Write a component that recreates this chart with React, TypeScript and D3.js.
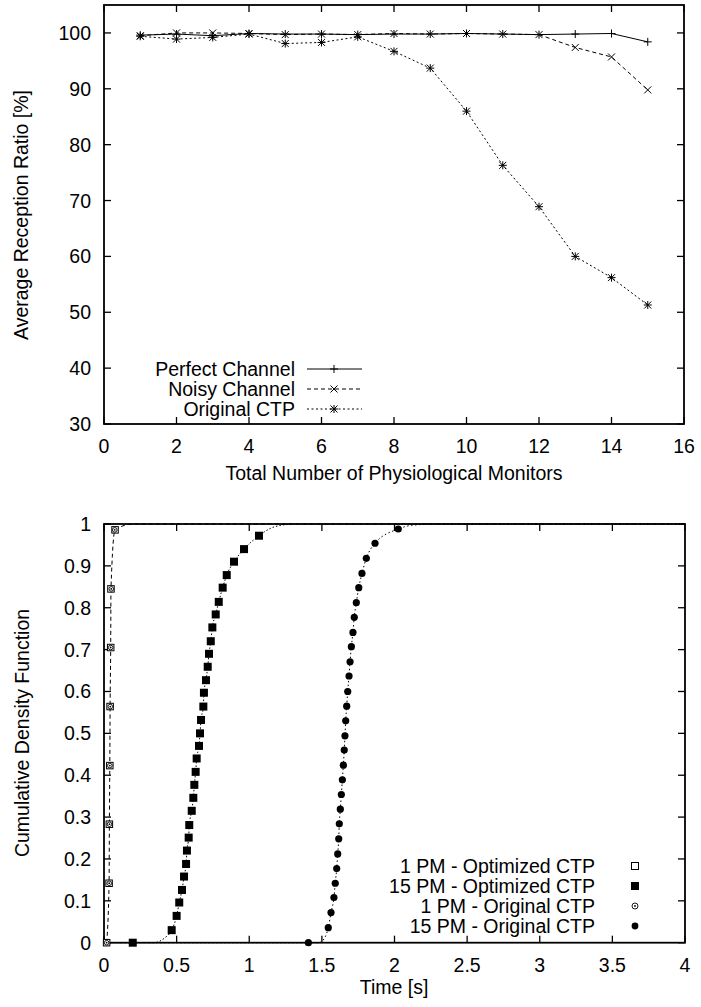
import React from 'react';
import * as d3 from 'd3';

// ---------- Top chart data ----------
const monitors = [1, 2, 3, 4, 5, 6, 7, 8, 9, 10, 11, 12, 13, 14, 15];
const perfectChannel = [99.6, 99.8, 99.5, 99.9, 99.8, 99.8, 99.7, 99.8, 99.8, 99.9, 99.8, 99.7, 99.8, 99.9, 98.4];
const noisyChannel = [99.5, 100.0, 100.0, 99.9, 99.7, 99.8, 99.7, 99.9, 99.8, 99.9, 99.8, 99.7, 97.4, 95.7, 89.8];
const originalCTP = [99.4, 98.9, 99.2, 99.8, 98.1, 98.3, 99.3, 96.7, 93.7, 86.0, 76.3, 68.9, 60.0, 56.2, 51.3];
const topXTicks = [0, 2, 4, 6, 8, 10, 12, 14, 16];
const topYTicks = [30, 40, 50, 60, 70, 80, 90, 100];
const topLegend = ['Perfect Channel', 'Noisy Channel', 'Original CTP'];

// ---------- Bottom chart data ----------
const pm1OptX = [0.018, 0.035, 0.037, 0.04, 0.042, 0.046, 0.048, 0.076];
const pm1OptY = [0, 0.142, 0.283, 0.423, 0.564, 0.705, 0.845, 0.986];
const pm1OrigX = [0.018, 0.036, 0.038, 0.04, 0.043, 0.046, 0.05, 0.074];
const pm1OrigY = [0, 0.142, 0.283, 0.423, 0.564, 0.705, 0.845, 0.986];

const pm15OptX = [0.198, 0.466, 0.5, 0.518, 0.537, 0.551, 0.565, 0.571, 0.583, 0.587, 0.604, 0.615, 0.622, 0.631,
  0.638, 0.654, 0.661, 0.668, 0.684, 0.688, 0.702, 0.714, 0.723, 0.735, 0.746, 0.769, 0.79, 0.817, 0.845, 0.895, 0.964, 1.067];
const pm15OptY = [0, 0.03, 0.064, 0.096, 0.126, 0.158, 0.188, 0.22, 0.251, 0.281, 0.315, 0.346, 0.377, 0.408,
  0.44, 0.47, 0.5, 0.532, 0.564, 0.597, 0.627, 0.659, 0.69, 0.72, 0.753, 0.784, 0.814, 0.848, 0.878, 0.91, 0.94, 0.972];
const pm15OptHeadX = [0, 0.34, 0.42];
const pm15OptHeadY = [0, 0, 0.012];
const pm15OptTailX = [1.18, 1.32, 4];
const pm15OptTailY = [0.994, 1, 1];

const pm15OrigX = [1.407, 1.544, 1.563, 1.583, 1.592, 1.602, 1.609, 1.616, 1.62, 1.627, 1.634, 1.641, 1.648, 1.654,
  1.659, 1.664, 1.671, 1.678, 1.687, 1.694, 1.703, 1.714, 1.723, 1.737, 1.754, 1.776, 1.806, 1.866, 2.026];
const pm15OrigY = [0, 0.036, 0.072, 0.108, 0.142, 0.177, 0.212, 0.248, 0.284, 0.319, 0.354, 0.389, 0.424, 0.46,
  0.494, 0.53, 0.565, 0.6, 0.637, 0.671, 0.707, 0.741, 0.777, 0.812, 0.848, 0.882, 0.918, 0.954, 0.988];
const pm15OrigHeadX = [0, 1.48, 1.52];
const pm15OrigHeadY = [0, 0, 0.012];
const pm15OrigTailX = [2.12, 2.3, 4];
const pm15OrigTailY = [0.997, 1, 1];

const pm1TailX = [0.2, 4];
const pm1TailY = [1, 1];

const botXTicks = [0, 0.5, 1, 1.5, 2, 2.5, 3, 3.5, 4];
const botYTicks = [0, 0.1, 0.2, 0.3, 0.4, 0.5, 0.6, 0.7, 0.8, 0.9, 1];
const botLegend = ['1 PM - Optimized CTP', '15 PM - Optimized CTP', '1 PM - Original CTP', '15 PM - Original CTP'];

const FONT = "'Liberation Sans', Arial, Helvetica, sans-serif";
const FS = 19.5;
const BL = 7; // baseline offset to vertically centre text

const zip = (xs: number[], ys: number[]) => xs.map((x, i) => [x, ys[i]] as [number, number]);

const plusPath = 'M-4,0H4M0,-4V4';
const crossPath = 'M-3.5,-3.5L3.5,3.5M-3.5,3.5L3.5,-3.5';
const starPath = plusPath + crossPath;

function Frame({ x, y, xTicks, yTicks, fmtX, fmtY }: any) {
  const [x0, x1] = x.range();
  const [y0, y1] = y.range();
  const T = 7;
  return (
    <g>
      {xTicks.map((t: number) => (
        <g key={'xt' + t}>
          <line x1={x(t)} x2={x(t)} y1={y0} y2={y0 - T} stroke="#000" strokeWidth={1.3} />
          <line x1={x(t)} x2={x(t)} y1={y1} y2={y1 + T} stroke="#000" strokeWidth={1.3} />
          <text x={x(t)} y={y0 + 29} textAnchor="middle" fontSize={FS} fontFamily={FONT}>{fmtX(t)}</text>
        </g>
      ))}
      {yTicks.map((t: number) => (
        <g key={'yt' + t}>
          <line x1={x0} x2={x0 + T} y1={y(t)} y2={y(t)} stroke="#000" strokeWidth={1.3} />
          <line x1={x1} x2={x1 - T} y1={y(t)} y2={y(t)} stroke="#000" strokeWidth={1.3} />
          <text x={x0 - 13} y={y(t) + BL} textAnchor="end" fontSize={FS} fontFamily={FONT}>{fmtY(t)}</text>
        </g>
      ))}
      <rect x={x0} y={y1} width={x1 - x0} height={y0 - y1} fill="none" stroke="#000" strokeWidth={1.8} />
    </g>
  );
}

export default function App() {
  // top chart scales
  const xT = d3.scaleLinear().domain([0, 16]).range([104, 684]);
  const yT = d3.scaleLinear().domain([30, 105]).range([424, 5]);
  const lineT = d3.line<[number, number]>().x(d => xT(d[0])).y(d => yT(d[1]));

  const topSeries = [
    { name: topLegend[0], vals: perfectChannel, dash: undefined, marker: plusPath },
    { name: topLegend[1], vals: noisyChannel, dash: '4,3', marker: crossPath },
    { name: topLegend[2], vals: originalCTP, dash: '2,2.5', marker: starPath },
  ];

  // bottom chart scales
  const xB = d3.scaleLinear().domain([0, 4]).range([104, 685]);
  const yB = d3.scaleLinear().domain([0, 1]).range([942.7, 524]);
  const lineB = d3.line<[number, number]>().x(d => xB(d[0])).y(d => yB(d[1])).curve(d3.curveMonotoneX);

  const pm1Line = [...zip(pm1OptX, pm1OptY), ...zip(pm1TailX, pm1TailY)];
  const pm15OptLine = [...zip(pm15OptHeadX, pm15OptHeadY), ...zip(pm15OptX, pm15OptY).slice(1), ...zip(pm15OptTailX, pm15OptTailY)];
  const pm15OrigLine = [...zip(pm15OrigHeadX, pm15OrigHeadY), ...zip(pm15OrigX, pm15OrigY).slice(1), ...zip(pm15OrigTailX, pm15OrigTailY)];

  const fmt1 = (t: number) => String(+t.toFixed(1));

  const openSquare = (cx: number, cy: number, s: number, k: string) => (
    <rect key={k} x={cx - s / 2} y={cy - s / 2} width={s} height={s} fill="#fff" stroke="#000" strokeWidth={1} />
  );
  const fillSquare = (cx: number, cy: number, s: number, k: string) => (
    <rect key={k} x={cx - s / 2} y={cy - s / 2} width={s} height={s} fill="#000" />
  );
  const openCircle = (cx: number, cy: number, r: number, k: string) => (
    <g key={k}>
      <circle cx={cx} cy={cy} r={r} fill="none" stroke="#000" strokeWidth={0.9} />
      <circle cx={cx} cy={cy} r={0.9} fill="#000" />
    </g>
  );
  const fillCircle = (cx: number, cy: number, r: number, k: string) => (
    <circle key={k} cx={cx} cy={cy} r={r} fill="#000" />
  );

  const legY = [866, 886, 906, 926];

  return (
    <svg width={701} height={1007} style={{ position: 'absolute', left: 0, top: 0, background: '#fff' }}>
      <rect x={0} y={0} width={701} height={1007} fill="#fff" />
      {/* ---------- top chart ---------- */}
      <Frame x={xT} y={yT} xTicks={topXTicks} yTicks={topYTicks} fmtX={(t: number) => String(t)} fmtY={(t: number) => String(t)} />
      {topSeries.map(s => {
        const pts = monitors.map((m, i) => [m, s.vals[i]] as [number, number]);
        return (
          <g key={s.name}>
            <path d={lineT(pts) || ''} fill="none" stroke="#000" strokeWidth={1} strokeDasharray={s.dash} />
            {pts.map((p, i) => (
              <path key={i} d={s.marker} transform={`translate(${xT(p[0])},${yT(p[1])})`} stroke="#000" strokeWidth={1} fill="none" />
            ))}
          </g>
        );
      })}
      {topSeries.map((s, i) => {
        const ly = 369 + i * 20;
        return (
          <g key={'leg' + i}>
            <text x={295} y={ly + BL} textAnchor="end" fontSize={FS} fontFamily={FONT}>{s.name}</text>
            <line x1={307} x2={362} y1={ly} y2={ly} stroke="#000" strokeWidth={1} strokeDasharray={s.dash} />
            <path d={s.marker} transform={`translate(334,${ly})`} stroke="#000" strokeWidth={1} fill="none" />
          </g>
        );
      })}
      <text x={394} y={480} textAnchor="middle" fontSize={FS} fontFamily={FONT}>Total Number of Physiological Monitors</text>
      <text transform="translate(28,215) rotate(-90)" textAnchor="middle" fontSize={FS} fontFamily={FONT}>Average Reception Ratio [%]</text>

      {/* ---------- bottom chart ---------- */}
      <path d={lineB(pm1Line) || ''} fill="none" stroke="#000" strokeWidth={1} strokeDasharray="4,3" />
      <path d={lineB(pm15OptLine) || ''} fill="none" stroke="#000" strokeWidth={1} strokeDasharray="1.5,2" />
      <path d={lineB(pm15OrigLine) || ''} fill="none" stroke="#000" strokeWidth={1} strokeDasharray="1.5,2.5" />
      <Frame x={xB} y={yB} xTicks={botXTicks} yTicks={botYTicks} fmtX={fmt1} fmtY={fmt1} />
      {pm1OptX.map((x, i) => openSquare(xB(x), yB(pm1OptY[i]), 6.5, 'os' + i))}
      {pm1OrigX.map((x, i) => openCircle(xB(x), yB(pm1OrigY[i]), 2.3, 'oc' + i))}
      {pm15OptX.map((x, i) => fillSquare(xB(x), yB(pm15OptY[i]), 8, 'fs' + i))}
      {pm15OrigX.map((x, i) => fillCircle(xB(x), yB(pm15OrigY[i]), 3.6, 'fc' + i))}

      {botLegend.map((name, i) => (
        <text key={'bl' + i} x={595} y={legY[i] + BL} textAnchor="end" fontSize={FS} fontFamily={FONT}>{name}</text>
      ))}
      {openSquare(635, legY[0], 7, 'lg0')}
      {fillSquare(635, legY[1], 8, 'lg1')}
      {openCircle(635, legY[2], 3, 'lg2')}
      {fillCircle(635, legY[3], 3.4, 'lg3')}

      <text x={394} y={994} textAnchor="middle" fontSize={FS} fontFamily={FONT}>Time [s]</text>
      <text transform="translate(29,733) rotate(-90)" textAnchor="middle" fontSize={FS} fontFamily={FONT}>Cumulative Density Function</text>
    </svg>
  );
}
